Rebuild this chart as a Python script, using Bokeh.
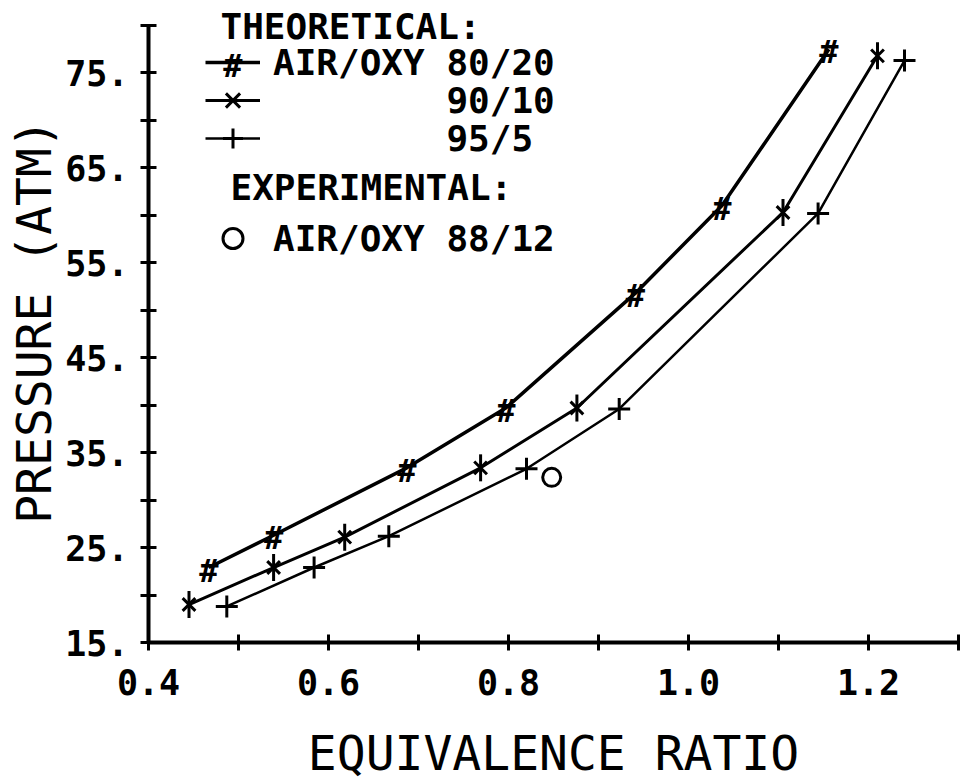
import numpy as np
from bokeh.plotting import figure
from bokeh.models import Range1d, FixedTicker, Legend, LegendItem, Label, PrintfTickFormatter
from bokeh.core.properties import value
from bokeh.embed import file_html
from bokeh.resources import INLINE

# ---- data ----
phi_80_20 = [0.467, 0.539, 0.687, 0.797, 0.941, 1.037, 1.156]
p_80_20 = [22.9, 26.3, 33.4, 39.7, 51.8, 61.0, 77.5]

phi_90_10 = [0.445, 0.539, 0.618, 0.769, 0.876, 1.105, 1.210]
p_90_10 = [19.0, 22.9, 26.1, 33.4, 39.7, 60.3, 76.8]

phi_95_5 = [0.487, 0.584, 0.667, 0.820, 0.923, 1.144, 1.240]
p_95_5 = [18.8, 22.9, 26.2, 33.3, 39.6, 60.2, 76.3]

phi_exp_88_12 = [0.848]
p_exp_88_12 = [32.4]

x_major_ticks = [0.4, 0.6, 0.8, 1.0, 1.2]
x_minor_ticks = [0.5, 0.7, 0.9, 1.1, 1.3]
x_tick_labels = ["0.4", "0.6", "0.8", "1.0", "1.2"]

y_major_ticks = [15, 25, 35, 45, 55, 65, 75]
y_minor_ticks = [20, 30, 40, 50, 60, 70, 80]
y_tick_labels = ["15.", "25.", "35.", "45.", "55.", "65.", "75."]
y_axis_bounds = (15, 80)

legend_title_theory = "THEORETICAL:"
legend_title_exp = "EXPERIMENTAL:"
NB = "\u00a0"
series_labels = ["AIR/OXY 80/20", NB * 8 + "90/10", NB * 8 + "95/5"]
exp_label = "AIR/OXY 88/12"

FONT = "DejaVu Sans Mono"
INK = "black"

# frame reaches the top of the canvas; the y axis line is bounded to 15..80
# so the legend titles above the top tick are not clipped
p = figure(width=964, height=783, output_backend="svg", toolbar_location=None,
           x_range=Range1d(0.4, 1.3), y_range=Range1d(15, 82.63),
           min_border_left=148, min_border_right=6, min_border_top=0,
           min_border_bottom=141,
           x_axis_label="EQUIVALENCE RATIO", y_axis_label="PRESSURE (ATM)")
p.grid.visible = False
p.outline_line_color = None
p.background_fill_color = "white"
p.border_fill_color = "white"

p.xaxis.ticker = FixedTicker(ticks=x_major_ticks, minor_ticks=x_minor_ticks)
p.xaxis.formatter = PrintfTickFormatter(format="%.1f")
p.xaxis.major_label_overrides = dict(zip(x_major_ticks, x_tick_labels))
p.yaxis.ticker = FixedTicker(ticks=y_major_ticks, minor_ticks=y_minor_ticks)
p.yaxis.formatter = PrintfTickFormatter(format="%d.")
p.yaxis.major_label_overrides = dict(zip(y_major_ticks, y_tick_labels))
p.yaxis.bounds = y_axis_bounds

for ax in (p.xaxis[0], p.yaxis[0]):
    ax.axis_line_width = 4
    ax.axis_line_color = INK
    ax.major_tick_line_width = 3
    ax.minor_tick_line_width = 3
    ax.major_tick_in = 8
    ax.major_tick_out = 8
    ax.minor_tick_in = 8
    ax.minor_tick_out = 8
    ax.major_tick_line_color = INK
    ax.minor_tick_line_color = INK
    ax.major_label_text_font = FONT
    ax.major_label_text_font_size = "35px"
    ax.major_label_text_font_style = "bold"
    ax.major_label_text_color = INK
    ax.axis_label_text_font = FONT
    ax.axis_label_text_font_size = "48px"
    ax.axis_label_text_font_style = "normal"
    ax.axis_label_text_color = INK

p.xaxis.major_label_standoff = 18
p.xaxis.axis_label_standoff = 27
p.yaxis.major_label_standoff = 12
p.yaxis.axis_label_standoff = 0

# ---- series ----
l80 = p.line(phi_80_20, p_80_20, line_color=INK, line_width=3.5)
m80 = p.text(phi_80_20, p_80_20, text=value("#"), text_font=value(FONT),
             text_font_size="32px", text_font_style="bold", text_color=INK,
             text_align="center", text_baseline="middle", y_offset=3)

l90 = p.line(phi_90_10, p_90_10, line_color=INK, line_width=3)
m90a = p.scatter(phi_90_10, p_90_10, marker="x", size=18, line_color=INK, line_width=3)
m90b = p.scatter(phi_90_10, p_90_10, marker="dash", size=27, angle=np.pi / 2,
                 line_color=INK, line_width=3)

l95 = p.line(phi_95_5, p_95_5, line_color=INK, line_width=2.5)
m95 = p.scatter(phi_95_5, p_95_5, marker="cross", size=22, line_color=INK, line_width=3)

mexp = p.scatter(phi_exp_88_12, p_exp_88_12, marker="circle", size=18,
                 fill_color=None, line_color=INK, line_width=3)

# ---- legend: one single-row legend per entry (screen positions) ----
common = dict(padding=0, margin=0, spacing=0, glyph_width=55, glyph_height=50,
              label_height=50, label_standoff=13, label_text_font=FONT,
              label_text_font_size="36px", label_text_font_style="bold",
              label_text_color=INK, background_fill_alpha=0, border_line_color=None)

rows = [(series_labels[0], [l80, m80], 555),
        (series_labels[1], [l90, m90a, m90b], 517),
        (series_labels[2], [l95, m95], 479),
        (exp_label, [mexp], 379)]
for lab, rends, ypos in rows:
    p.add_layout(Legend(items=[LegendItem(label=lab, renderers=rends)],
                        location=(57, ypos), **common))

# '#' symbol of the 80/20 legend sample (text glyphs have no legend drawing)
p.add_layout(Label(x=84.5, y=577, x_units="screen", y_units="screen", text="#",
                   text_font=FONT, text_font_size="32px", text_font_style="bold",
                   text_color=INK, text_align="center", text_baseline="middle"))

for txt, sx, sy in [(legend_title_theory, 72, 616), (legend_title_exp, 82, 455)]:
    p.add_layout(Label(x=sx, y=sy, x_units="screen", y_units="screen", text=txt,
                       text_font=FONT, text_font_size="36px", text_font_style="bold",
                       text_color=INK, text_baseline="middle", text_align="left"))

open("out.html", "w").write(file_html(p, INLINE))
